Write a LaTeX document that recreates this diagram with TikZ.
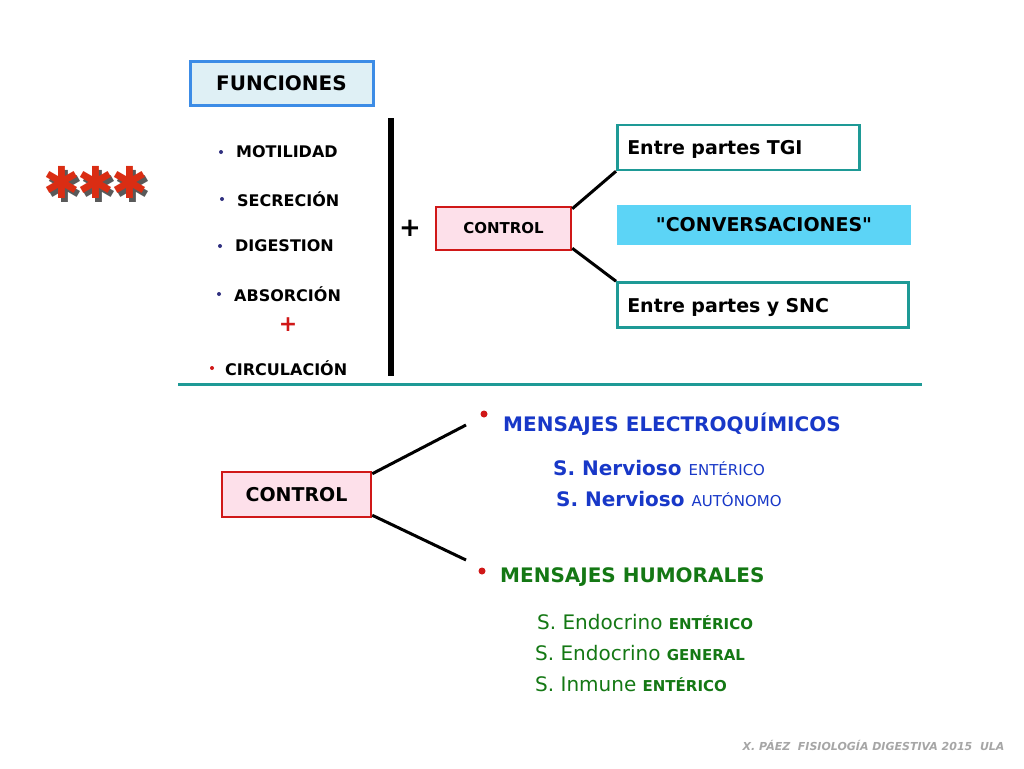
\documentclass[tikz,border=0pt]{standalone}
\usepackage{fontspec}
\setmainfont{DejaVu Sans}
\newfontfamily\djv{DejaVu Sans}
\newfontfamily\rawq{DejaVu Sans}[Ligatures=TeXOff]
\definecolor{boxblue}{HTML}{3C8CE6}
\definecolor{boxcyan}{HTML}{DFF0F5}
\definecolor{teal1}{HTML}{1E9A96}
\definecolor{pinkf}{HTML}{FDE0EA}
\definecolor{redb}{HTML}{D01818}
\definecolor{conv}{HTML}{5CD4F6}
\definecolor{mblue}{HTML}{1838C8}
\definecolor{mgreen}{HTML}{147814}
\definecolor{bul}{HTML}{303080}
\begin{document}
\begin{tikzpicture}[x=1pt,y=-1pt,
  lbl/.style={font=\fontsize{16}{20}\selectfont\bfseries,anchor=west},
  tealbox/.style={draw=teal1,line width=2.5pt,fill=white,font=\fontsize{19}{24}\selectfont\bfseries,anchor=west,align=left,inner xsep=10pt,minimum height=45pt,text depth=0pt,text width=#1},
  ctrlbox/.style={draw=redb,line width=2.5pt,fill=pinkf,minimum height=43pt},
  conn/.style={line width=3pt},
  mb/.style={anchor=west,text=mblue,font=\fontsize{20}{26}\selectfont\bfseries},
  mg/.style={anchor=west,text=mgreen,font=\fontsize{20}{26}\selectfont}]
\useasboundingbox (0,0) rectangle (1024,768);
\fill[white] (0,0) rectangle (1024,768);
% stars
\node[text=gray!70!black] (sh) at (99,186) {\djv\fontsize{44}{44}\selectfont\bfseries\kern-4pt✱\kern-3pt✱\kern-3pt✱\kern-4pt};
\node[text=redb!80!orange] (st) at (96,182) {\djv\fontsize{44}{44}\selectfont\bfseries\kern-4pt✱\kern-3pt✱\kern-3pt✱\kern-4pt};
% funciones
\node[draw=boxblue,fill=boxcyan,line width=3pt,minimum width=183pt,minimum height=44pt,font=\fontsize{20}{26}\selectfont\bfseries] (fun) at (281.5,83) {FUNCIONES};
\foreach \n/\t/\y/\x in {m/MOTILIDAD/152/236,s/SECRECIÓN/199/237,d/DIGESTION/246/235,a/ABSORCIÓN/294/234}{
  \fill[bul] (\x-15,\y) circle (2);
  \node[lbl,inner sep=0pt] (\n) at (\x,\y) {\t};}
\node[text=redb,font=\fontsize{22}{22}\selectfont\bfseries] (rp) at (288,325) {+};
\fill[redb] (212,368) circle (2);
\node[lbl,inner sep=0pt] (c) at (225,368) {CIRCULACIÓN};
\draw[line width=6pt] (391,118) coordinate (v1) -- (391,376) coordinate (v2);
\node[font=\fontsize{26}{26}\selectfont\bfseries] (plus) at (410,228) {+};
\node[ctrlbox,minimum width=135pt,font=\fontsize{15}{20}\selectfont\bfseries] (ctl) at (503.5,228.5) {CONTROL};
\node[tealbox=222pt] (tgi) at (616,147.5) {Entre partes TGI};
\node[fill=conv,minimum width=294pt,minimum height=40pt,font=\fontsize{19}{24}\selectfont\bfseries] (conv) at (764,225) {{\rawq "}CONVERSACIONES{\rawq "}};
\node[tealbox=271pt] (snc) at (616,305) {Entre partes y SNC};
\draw[conn] (ctl.north east) ++(0,3) -- (tgi.south west);
\draw[conn] (ctl.south east) ++(0,-3) -- (snc.north west);
\draw[teal1,line width=3pt] (178,384) coordinate (h1) -- (922,384) coordinate (h2);
% lower
\node[ctrlbox,minimum width=149pt,minimum height=45pt,font=\fontsize{19}{24}\selectfont\bfseries] (ctl2) at (296.5,494.5) {CONTROL};
\coordinate (e1) at (466,425);
\coordinate (e2) at (466,560);
\draw[conn] (ctl2.north east) ++(0,3) -- (e1);
\draw[conn] (ctl2.south east) ++(0,-3) -- (e2);
\fill[redb] (484,414) circle (3.5);
\node[mb,inner sep=0pt] (me) at (503,424) {MENSAJES ELECTROQUÍMICOS};
\node[mb,inner sep=0pt] (n1) at (553,468) {S. Nervioso {\fontsize{15}{20}\selectfont\mdseries ENTÉRICO}};
\node[mb,inner sep=0pt] (n2) at (556,499) {S. Nervioso {\fontsize{15}{20}\selectfont\mdseries AUTÓNOMO}};
\fill[redb] (482,571) circle (3.5);
\node[mb,inner sep=0pt,text=mgreen] (mh) at (500,577) {MENSAJES HUMORALES};
\node[mg,inner sep=0pt] (g1) at (537,622) {S. Endocrino {\fontsize{15}{20}\selectfont\bfseries ENTÉRICO}};
\node[mg,inner sep=0pt] (g2) at (535,653) {S. Endocrino {\fontsize{15}{20}\selectfont\bfseries GENERAL}};
\node[mg,inner sep=0pt] (g3) at (535,684) {S. Inmune {\fontsize{15}{20}\selectfont\bfseries ENTÉRICO}};
\node[anchor=east,text=gray!70,font=\fontsize{11}{13}\selectfont\bfseries\itshape] (ft) at (1008,745) {X. PÁEZ\ \ FISIOLOGÍA DIGESTIVA 2015\ \ ULA};
\end{tikzpicture}
\end{document}
